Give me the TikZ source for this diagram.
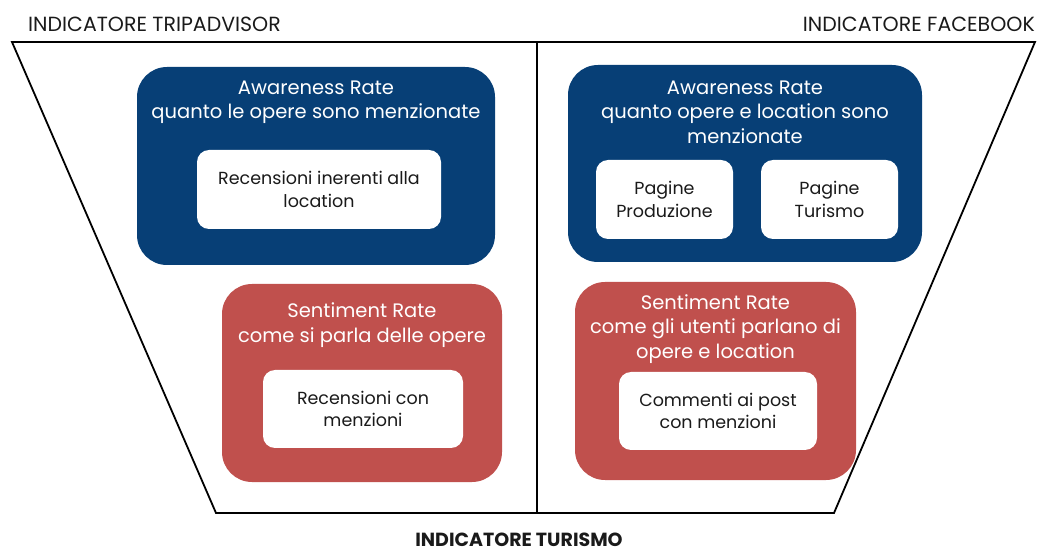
\documentclass[tikz,border=0pt]{standalone}
\usepackage{fontspec}
\setmainfont{Poppins}
\definecolor{awblue}{HTML}{073F76}
\definecolor{sentred}{HTML}{C0504D}
\definecolor{txtdark}{HTML}{1A1A1A}
\begin{document}
\begin{tikzpicture}[x=1pt,y=-1pt,
  bigbox/.style={rounded corners=30pt, inner sep=0pt, draw=none},
  bluebox/.style={bigbox, fill=awblue},
  redbox/.style={bigbox, fill=sentred},
  whitebox/.style={rounded corners=12pt, fill=white, inner sep=0pt},
  headtxt/.style={text=white, align=center, font=\fontsize{19.5}{24.5}\selectfont, inner sep=0pt},
  innertxt/.style={text=txtdark, align=center, font=\fontsize{17.5}{22.5}\selectfont, inner sep=0pt},
  labeltxt/.style={text=txtdark, font=\fontsize{20.5}{24}\selectfont, inner sep=0pt},
  frame/.style={line width=1.8pt, black}
]
\useasboundingbox (0,0) rectangle (1037,553);
% frame
\coordinate (tl) at (12,42);
\coordinate (tr) at (1035,42);
\coordinate (br) at (834,513);
\coordinate (bl) at (216,513);
\coordinate (mt) at (537,42);
\coordinate (mb) at (537,513);
\draw[frame, line join=miter] (tl) -- (tr) -- (br) -- (bl) -- cycle;
\draw[frame] (mt) -- (mb);
% labels
\node[labeltxt, anchor=base west] (ltrip) at (28,32) {INDICATORE TRIPADVISOR};
\node[labeltxt, anchor=base east] (lfb) at (1035,32) {INDICATORE FACEBOOK};
\node[labeltxt, font=\fontsize{19}{24}\selectfont\bfseries, anchor=base] (ltur) at (519,546) {INDICATORE TURISMO};
% left awareness
\node[bluebox, minimum width=358pt, minimum height=198pt] (aw1) at (316,166) {};
\node[headtxt] (aw1t) at (316,102) {Awareness Rate\\quanto le opere sono menzionate};
\node[whitebox, minimum width=244pt, minimum height=79pt] (aw1w) at (319,189.5) {};
\node[innertxt] (aw1wt) at (aw1w) {Recensioni inerenti alla\\location};
% left sentiment
\node[redbox, minimum width=280pt, minimum height=198pt] (se1) at (362,383) {};
\node[headtxt] (se1t) at (362,325) {Sentiment Rate\\come si parla delle opere};
\node[whitebox, minimum width=200pt, minimum height=78pt] (se1w) at (363,409) {};
\node[innertxt] (se1wt) at (se1w) {Recensioni con\\menzioni};
% right awareness
\node[bluebox, minimum width=354pt, minimum height=197pt] (aw2) at (745,163.5) {};
\node[headtxt] (aw2t) at (745,112) {Awareness Rate\\quanto opere e location sono\\menzionate};
\node[whitebox, minimum width=137pt, minimum height=79pt] (aw2a) at (664.5,199.5) {};
\node[innertxt] (aw2at) at (aw2a) {Pagine\\Produzione};
\node[whitebox, minimum width=137pt, minimum height=79pt] (aw2b) at (829.5,199.5) {};
\node[innertxt] (aw2bt) at (aw2b) {Pagine\\Turismo};
% right sentiment
\node[redbox, minimum width=281pt, minimum height=198pt] (se2) at (715.5,381) {};
\node[headtxt] (se2t) at (715.5,329) {Sentiment Rate\\come gli utenti parlano di\\opere e location};
\node[whitebox, minimum width=198pt, minimum height=78pt] (se2w) at (718,411) {};
\node[innertxt] (se2wt) at (se2w) {Commenti ai post\\con menzioni};
\end{tikzpicture}
\end{document}
